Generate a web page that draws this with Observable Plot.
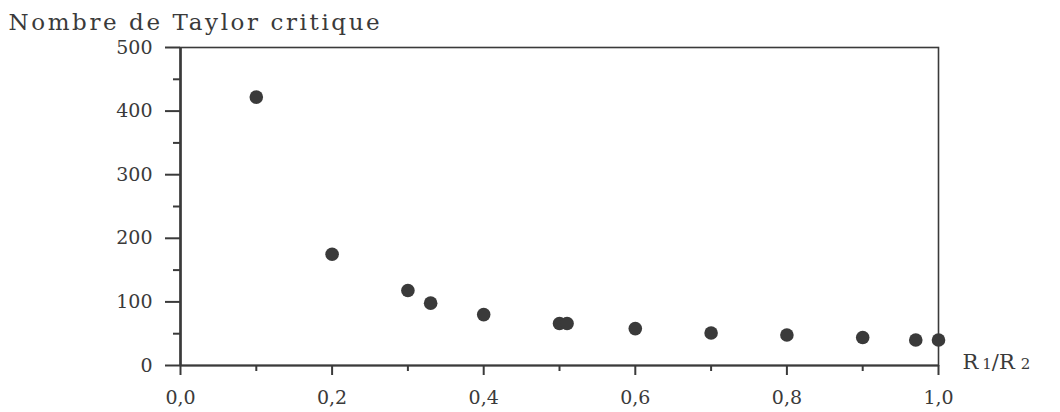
<!DOCTYPE html>
<html>
<head>
<meta charset="utf-8">
<script src="https://cdn.jsdelivr.net/npm/d3@7"></script>
<script src="https://cdn.jsdelivr.net/npm/@observablehq/plot@0.6"></script>
<style>
  html, body { margin: 0; padding: 0; background: #ffffff; }
  #chart { width: 1060px; height: 412px; }
</style>
</head>
<body>
<div id="chart"></div>
<script>
// Critical Taylor number as a function of the radius ratio R1/R2
const ratio  = [0.1, 0.2, 0.3, 0.33, 0.4, 0.5, 0.51, 0.6, 0.7, 0.8, 0.9, 0.97, 1.0];
const taylor = [422, 175, 118, 98, 80, 66, 66, 58, 51, 48, 44, 40, 40];

// Axis ticks (major ticks are labelled, minor ones are not)
const xMajor = [0, 0.2, 0.4, 0.6, 0.8, 1.0];
const xMinor = [0.1, 0.3, 0.5, 0.7, 0.9];
const yMajor = [0, 100, 200, 300, 400, 500];
const yMinor = [50, 150, 250, 350, 450];

const yTitle = "Nombre de Taylor critique";
const xTitle = "R1/R2";

const points = ratio.map((r, i) => ({ratio: r, taylor: taylor[i]}));
const comma = d => d.toFixed(1).replace(".", ",");
const ink = "#3a3a3a";
const serif = "DejaVu Serif";

const chart = Plot.plot({
  width: 1060,
  height: 412,
  marginLeft: 180,
  marginRight: 122,
  marginTop: 47,
  marginBottom: 47,
  style: {fontFamily: serif, fontSize: "19px", color: ink, background: "#ffffff", overflow: "visible"},
  x: {domain: [0, 1]},
  y: {domain: [0, 500]},
  marks: [
    Plot.frame({stroke: ink, strokeWidth: 1.6}),
    Plot.ruleX([0], {stroke: ink, strokeWidth: 2.6}),
    Plot.ruleY([0], {stroke: ink, strokeWidth: 2.2}),
    Plot.axisY(yMajor, {tickSize: 15, tickPadding: 13, strokeWidth: 2, tickFormat: d => String(d), label: null}),
    Plot.axisY(yMinor, {tickSize: 7, strokeWidth: 2, fill: "none", label: null}),
    Plot.axisX(xMajor, {tickSize: 10, tickPadding: 15, strokeWidth: 2, tickFormat: comma, label: null}),
    Plot.axisX(xMinor, {tickSize: 6, strokeWidth: 2, fill: "none", label: null}),
    Plot.text([yTitle], {frameAnchor: "top-left", dx: -172, dy: -18, textAnchor: "start", lineAnchor: "bottom", fontSize: 23, fill: ink}),
    Plot.text([xTitle], {frameAnchor: "bottom-right", dx: 24, dy: 3, textAnchor: "start", lineAnchor: "bottom", fontSize: 21, fill: ink}),
    Plot.dot(points, {x: "ratio", y: "taylor", r: 6.8, fill: ink, stroke: "none"})
  ]
});

document.getElementById("chart").append(chart);

// Widen the spacing of the y title
d3.select(chart).selectAll("text").filter(function () { return this.textContent === yTitle; })
  .style("letter-spacing", "2.6px");

// Set the indices of the x title in smaller digits
d3.select(chart).selectAll("text").filter(function () { return this.textContent === xTitle; })
  .each(function () {
    const t = d3.select(this);
    const target = t.selectAll("tspan").empty() ? t : t.select("tspan");
    target.text(null);
    target.append("tspan").text("R");
    target.append("tspan").attr("dx", "4").attr("font-size", "15").text("1");
    target.append("tspan").text("/R");
    target.append("tspan").attr("dx", "6").attr("font-size", "15").text("2");
  });
</script>
</body>
</html>
